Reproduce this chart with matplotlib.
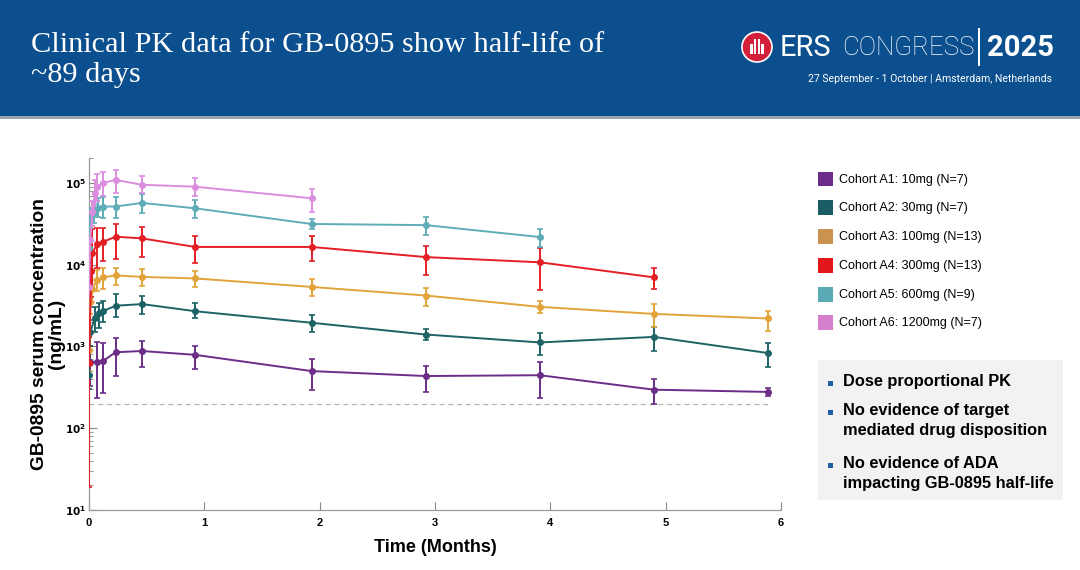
import numpy as np
import matplotlib.pyplot as plt
import matplotlib.patches as mpatches

# cohort data (months, ng/mL)
labels = ['Cohort A1: 10mg (N=7)', 'Cohort A2: 30mg (N=7)', 'Cohort A3: 100mg (N=13)',
          'Cohort A4: 300mg (N=13)', 'Cohort A5: 600mg (N=9)', 'Cohort A6: 1200mg (N=7)']
colors = ['#6b2d87', '#1d6366', '#e2a43a', '#e31e24', '#5eacb8', '#dc8ede']
legend_colors = ['#6b2d87', '#1a5c63', '#c9924f', '#e3161b', '#5aaab6', '#d77fcf']

t_a1 = [0, 0.01, 0.07, 0.12, 0.23, 0.46, 0.92, 1.93, 2.92, 3.91, 4.9, 5.89]
m_a1 = [630, 640, 650, 660, 850, 880, 790, 500, 435, 445, 296, 278]
lo_a1 = [430, 330, 235, 270, 435, 560, 530, 295, 278, 235, 200, 248]
hi_a1 = [900, 1000, 1130, 1100, 1260, 1180, 1000, 700, 580, 650, 400, 310]

t_a2 = [0, 0.01, 0.05, 0.09, 0.12, 0.23, 0.46, 0.92, 1.93, 2.92, 3.91, 4.9, 5.89]
m_a2 = [450, 1500, 2200, 2600, 2700, 3150, 3300, 2700, 1950, 1400, 1120, 1310, 830]
lo_a2 = [300, 1000, 1500, 1700, 2000, 2300, 2500, 2200, 1520, 1200, 780, 890, 560]
hi_a2 = [650, 2100, 3000, 3400, 3600, 4400, 4150, 3400, 2450, 1620, 1450, 1740, 1100]

t_a3 = [0, 0.01, 0.03, 0.07, 0.12, 0.23, 0.46, 0.92, 1.93, 2.92, 3.91, 4.9, 5.89]
m_a3 = [900, 3500, 5000, 6500, 7000, 7400, 7100, 6800, 5350, 4200, 3050, 2500, 2200]
lo_a3 = [500, 2500, 3500, 4800, 5000, 5700, 5500, 5350, 4200, 3100, 2580, 1750, 1550]
hi_a3 = [1300, 4800, 6500, 8500, 9000, 9100, 8900, 8300, 6700, 5200, 3650, 3300, 2750]

t_a4 = [0, 0.02, 0.03, 0.07, 0.12, 0.23, 0.46, 0.92, 1.93, 2.92, 3.91, 4.9]
m_a4 = [630, 8300, 13800, 18000, 19000, 22000, 21000, 16500, 16500, 12400, 10700, 7000]
lo_a4 = [19, 4000, 5000, 9000, 11000, 11800, 12400, 10600, 11000, 7500, 4850, 5000]
hi_a4 = [1300, 14000, 27000, 28000, 28500, 31500, 29300, 22500, 22500, 17000, 16000, 9200]

t_a5 = [0, 0.01, 0.04, 0.08, 0.12, 0.23, 0.46, 0.92, 1.93, 2.92, 3.91]
m_a5 = [16000, 39000, 43000, 50000, 51500, 51500, 57000, 49000, 31500, 30500, 21800]
lo_a5 = [10000, 28000, 32000, 38000, 37500, 37500, 43500, 37500, 27500, 23000, 16500]
hi_a5 = [22000, 50000, 55000, 65000, 68000, 67000, 73000, 62000, 36500, 38000, 27500]

t_a6 = [0, 0.01, 0.03, 0.05, 0.07, 0.12, 0.23, 0.46, 0.92, 1.93]
m_a6 = [5400, 20000, 44000, 75000, 90000, 100000, 109000, 95000, 90000, 65000]
lo_a6 = [3000, 12000, 30000, 45000, 60000, 70000, 75000, 75000, 70000, 44000]
hi_a6 = [8000, 30000, 60000, 110000, 130000, 135000, 145000, 120000, 115000, 85000]

lloq = 200
lloq_t = [0, 5.9]

bullets = ['Dose proportional PK',
           'No evidence of target\nmediated drug disposition',
           'No evidence of ADA\nimpacting GB-0895 half-life']

series = [(t_a1, m_a1, lo_a1, hi_a1), (t_a2, m_a2, lo_a2, hi_a2), (t_a3, m_a3, lo_a3, hi_a3),
          (t_a4, m_a4, lo_a4, hi_a4), (t_a5, m_a5, lo_a5, hi_a5), (t_a6, m_a6, lo_a6, hi_a6)]

fig = plt.figure(figsize=(10.8, 5.7), dpi=100)
fig.patch.set_facecolor('white')

# header band
fig.patches.append(mpatches.Rectangle((0, 0.797), 1, 0.203, transform=fig.transFigure,
                                      facecolor='#0b4f8e', edgecolor='none'))
fig.patches.append(mpatches.Rectangle((0, 0.792), 1, 0.005, transform=fig.transFigure,
                                      facecolor='#9aa4ae', edgecolor='none'))
fig.text(0.029, 0.894, 'Clinical PK data for GB-0895 show half-life of\n~89 days',
         color='white', fontsize=21.8, family='Liberation Serif', va='center',
         linespacing=1.2)

# congress logo
fig.patches.append(mpatches.Ellipse((0.7009, 0.9175), 0.0278, 0.0526, transform=fig.transFigure,
                                    facecolor='#d31f3a', edgecolor='white', linewidth=1.2))
for dx, h in [(-0.005, 0.018), (-0.0017, 0.026), (0.0017, 0.026), (0.005, 0.018)]:
    fig.patches.append(mpatches.Rectangle((0.7009 + dx - 0.0012, 0.905), 0.0024, h,
                                          transform=fig.transFigure, facecolor='white',
                                          edgecolor='none'))
fig.text(0.7222, 0.9165, 'ERS', color='white', fontsize=21, family='Roboto',
         va='center')
fig.text(0.7800, 0.9165, 'CONGRESS', color='white', fontsize=18.6, family='Roboto',
         fontweight='light', va='center')
fig.patches.append(mpatches.Rectangle((0.9055, 0.885), 0.0015, 0.066, transform=fig.transFigure,
                                      facecolor='white', edgecolor='none'))
fig.text(0.9135, 0.9165, '2025', color='white', fontsize=21, family='Roboto',
         fontweight='bold', va='center')
fig.text(0.974, 0.862, '27 September - 1 October | Amsterdam, Netherlands', color='white',
         fontsize=7.6, family='Roboto', ha='right', va='center')

# chart
ax = fig.add_axes([0.0824, 0.1053, 0.6407, 0.6175])
for (t, m, lo, hi), c in zip(series, colors):
    m = np.array(m, dtype=float)
    err = [m - np.array(lo), np.array(hi) - m]
    ax.errorbar(t, m, yerr=err, color=c, marker='o', markersize=4, linewidth=1.4,
                elinewidth=1.4, capsize=2.5, capthick=1.2, zorder=3)
ax.plot(lloq_t, [lloq, lloq], color='#b5b5b5', linestyle=(0, (4, 3)), linewidth=0.9, zorder=2)

ax.set_yscale('log')
ax.set_ylim(10, 2.02e5)
ax.set_xlim(0, 6)
ax.set_xticks(range(7))
ax.set_xticklabels([str(i) for i in range(7)], fontweight='bold', fontsize=8,
                   family='Liberation Sans')
ax.set_yticks([10, 100, 1000, 1e4, 1e5])
ax.set_yticklabels([r'$\mathbf{10^{%d}}$' % i for i in range(1, 6)], fontsize=7.5)
ax.tick_params(axis='both', which='both', direction='in', color='#888888')
ax.tick_params(axis='x', pad=6)
ax.tick_params(axis='y', pad=2)
ax.tick_params(axis='both', which='major', length=6)
ax.tick_params(axis='y', which='minor', length=3)
for s in ['top', 'right']:
    ax.spines[s].set_visible(False)
for s in ['left', 'bottom']:
    ax.spines[s].set_color('#999999')
    ax.spines[s].set_linewidth(0.9)

ax.set_xlabel('Time (Months)', fontsize=13, fontweight='bold', family='Liberation Sans',
              labelpad=8)
ax.set_ylabel('GB-0895 serum concentration\n(ng/mL)', fontsize=13.8, fontweight='bold',
              family='Liberation Sans', labelpad=0, linespacing=1.0)

# legend
for i, (lab, c) in enumerate(zip(labels, legend_colors)):
    y = 0.685 - i * 0.0505
    fig.patches.append(mpatches.Rectangle((0.757, y - 0.012), 0.014, 0.026,
                                          transform=fig.transFigure, facecolor=c,
                                          edgecolor='none'))
    fig.text(0.777, y, lab, fontsize=9, family='Liberation Sans', va='center')

# bullet box
fig.patches.append(mpatches.Rectangle((0.757, 0.123), 0.227, 0.245, transform=fig.transFigure,
                                      facecolor='#f2f2f2', edgecolor='none'))
for y, txt in zip([0.327, 0.276, 0.183], bullets):
    fig.patches.append(mpatches.Rectangle((0.767, y - 0.004), 0.004, 0.008,
                                          transform=fig.transFigure, facecolor='#1f5fa8',
                                          edgecolor='none'))
    fig.text(0.781, y + 0.017, txt, fontsize=11.8, fontweight='bold',
             family='Liberation Sans', va='top', linespacing=1.38)

fig.savefig('out.png', dpi=100)
plt.close(fig)
